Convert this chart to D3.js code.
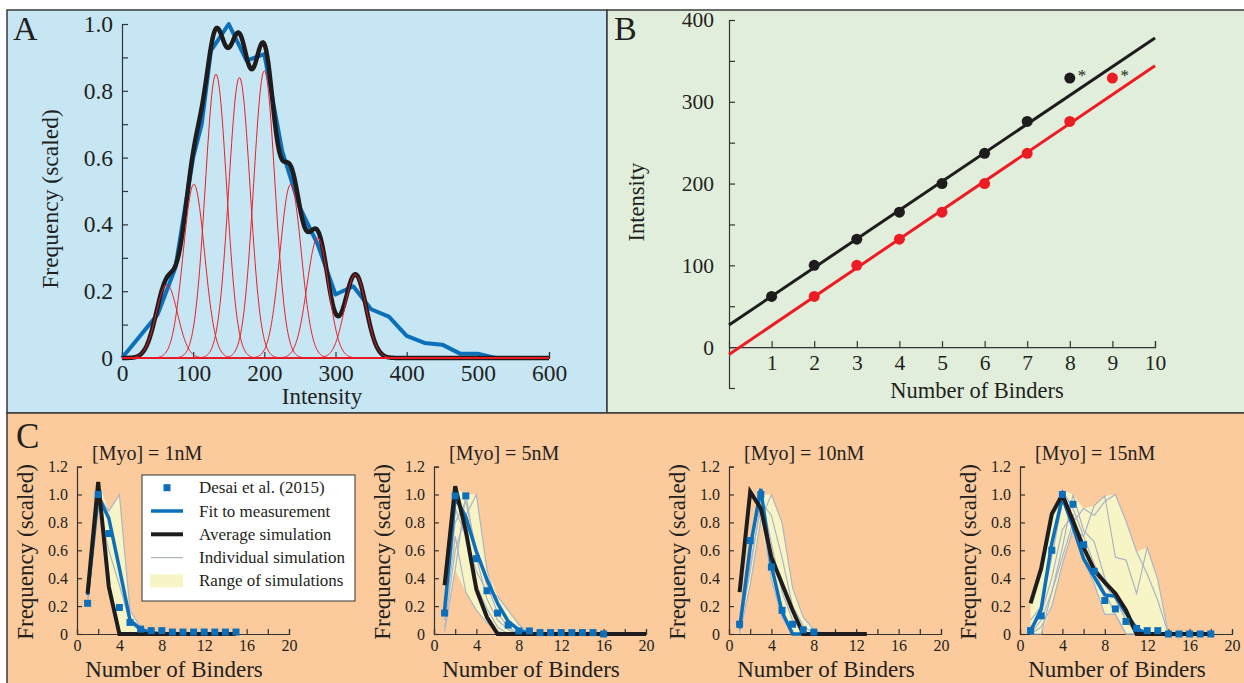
<!DOCTYPE html>
<html>
<head>
<meta charset="utf-8">
<script src="https://cdn.jsdelivr.net/npm/d3@7"></script>
<style>
  body { margin: 0; background: #fff; }
  svg text { font-family: "Liberation Serif", "Times New Roman", serif; fill: #231f20; }
</style>
</head>
<body>
<svg id="fig" width="1244" height="683"></svg>
<script>

// ---- panel A : intensity histogram + gaussian fits
let aIntensity = [0, 25, 50, 75, 100, 112, 125, 150, 175, 200, 225, 250, 275, 300, 325, 350, 375, 400, 425, 450, 475, 500, 525, 550, 575, 600];
let aMeasured  = [0, 0.065, 0.13, 0.27, 0.6, 0.7, 0.92, 1.0, 0.89, 0.91, 0.62, 0.45, 0.34, 0.19, 0.215, 0.146, 0.124, 0.066, 0.045, 0.04, 0.013, 0.013, 0, 0, 0, 0];
let aPeakCenter = [63, 101, 132, 165, 200, 237, 275, 328];
let aPeakHeight = [0.22, 0.52, 0.85, 0.84, 0.86, 0.52, 0.36, 0.25];
let aPeakSigma = 15;

// ---- panel B : peak intensity vs number of binders
let bBinders = [1, 2, 3, 4, 5, 6, 7, 8];
let bRedBinders = [2, 3, 4, 5, 6, 7, 8, 9];
let bIntensity = [62, 100, 132, 165, 200, 237, 276, 329];
let bBlackFit = [[0, 27], [10, 378]];
let bRedFit = [[0, -9], [10, 344]];

// ---- panel C : distributions of binders (x = 1, 2, 3 ...)
let cTitles = ["[Myo] = 1nM", "[Myo] = 5nM", "[Myo] = 10nM", "[Myo] = 15nM"];

let c1Desai = [0.22, 1.0, 0.72, 0.19, 0.083, 0.035, 0.024, 0.024, 0.014, 0.014, 0.014, 0.014, 0.014, 0.014, 0.014];
let c1Fit   = [0.28, 0.99, 0.83, 0.47, 0.1, 0.035, 0.01, 0];
let c1Avg   = [0.29, 1.09, 0.34, 0, 0, 0, 0, 0, 0, 0, 0, 0, 0, 0, 0];
let c1Sims  = [
  [0.3, 1.09, 0.36, 0, 0, 0, 0],
  [0.25, 1.0, 0.88, 1.0, 0.17, 0.05, 0],
  [0.22, 0.95, 0.6, 0.35, 0.08, 0.02, 0]
];

let c2Desai = [0.15, 0.99, 0.99, 0.54, 0.31, 0.15, 0.064, 0.022, 0.022, 0.01, 0.01, 0.01, 0.01, 0.01, 0.01, 0];
let c2Fit   = [0.17, 0.98, 0.84, 0.59, 0.39, 0.22, 0.09, 0.03, 0, 0, 0, 0, 0, 0, 0, 0, 0, 0, 0, 0];
let c2Avg   = [0.35, 1.06, 0.74, 0.32, 0.12, 0, 0, 0, 0, 0, 0, 0, 0, 0, 0, 0, 0, 0, 0, 0];
let c2Sims  = [
  [0.35, 1.05, 0.75, 0.35, 0.18, 0.05, 0, 0, 0],
  [0.02, 0.46, 1.0, 0.55, 0.25, 0.1, 0.03, 0, 0],
  [0.1, 0.7, 0.3, 0.17, 0.08, 0.02, 0, 0, 0],
  [0.05, 0.6, 0.85, 1.0, 0.46, 0.2, 0.08, 0.02, 0],
  [0.2, 0.9, 0.7, 0.45, 0.3, 0.27, 0.17, 0.07, 0],
  [0.15, 0.8, 0.95, 0.6, 0.35, 0.15, 0.05, 0, 0]
];

let c3Desai = [0.07, 0.67, 1.0, 0.48, 0.17, 0.07, 0.03, 0.014];
let c3Fit   = [0.04, 0.62, 1.04, 0.49, 0.16, 0, 0];
let c3Avg   = [0.3, 1.02, 0.9, 0.55, 0.36, 0.17, 0, 0, 0, 0, 0, 0, 0];
let c3Sims  = [
  [0.05, 0.62, 1.0, 0.65, 0.3, 0.1, 0.02, 0, 0],
  [0.0, 0.35, 0.82, 1.0, 0.8, 0.33, 0.12, 0.03, 0],
  [0.02, 0.5, 0.9, 0.39, 0.12, 0.0, 0, 0, 0],
  [0.03, 0.45, 0.95, 0.85, 0.55, 0.2, 0.06, 0, 0]
];

let c4Desai = [0.024, 0.13, 0.6, 1.0, 0.93, 0.64, 0.45, 0.24, 0.18, 0.09, 0.04, 0.024, 0.024, 0, 0, 0, 0, 0];
let c4Fit   = [0.02, 0.18, 0.65, 0.98, 0.77, 0.54, 0.41, 0.28, 0.27, 0.15, 0.04, 0];
let c4Avg   = [0.22, 0.47, 0.86, 1.0, 0.81, 0.62, 0.46, 0.37, 0.29, 0.17, 0, 0, 0, 0, 0, 0, 0, 0];
let c4Sims  = [
  [0.1, 0.2, 0.55, 0.95, 0.85, 0.6, 0.45, 0.3, 0.14, 0.0, 0, 0, 0, 0],
  [0.0, 0.0, 0.3, 0.62, 1.0, 0.74, 0.66, 0.4, 0.25, 0.1, 0, 0, 0, 0],
  [0.05, 0.15, 0.4, 0.75, 0.85, 0.53, 0.36, 0.14, 0.14, 0, 0, 0, 0, 0],
  [0.0, 0.05, 0.2, 0.5, 0.75, 0.7, 0.92, 0.99, 0.55, 0.53, 0.29, 0.62, 0.39, 0],
  [0.0, 0.1, 0.3, 0.55, 0.8, 0.9, 0.85, 0.95, 1.0, 0.81, 0.59, 0.43, 0.24, 0],
  [0.22, 0.47, 0.86, 1.03, 0.9, 0.7, 0.5, 0.35, 0.25, 0.1, 0, 0, 0, 0]
];

let legendLabels = ["Desai et al. (2015)", "Fit to measurement", "Average simulation", "Individual simulation", "Range of simulations"];

let BLUE = "#0b6fba";
let BLACK = "#1f1c1d";
let RED = "#ed1c24";
let GRAY = "#adb4c4";
let YELLOW = "#f7f5c6";
let AXIS = "#333";
let FONT = "'Liberation Serif', 'Times New Roman', serif";

let svg = d3.select("#fig");

// panel backgrounds
function panel(x, y, w, h, fill) {
    svg.append("rect")
        .attr("x", x).attr("y", y).attr("width", w).attr("height", h)
        .attr("fill", fill).attr("stroke", "#3a3a3a").attr("stroke-width", 1.5);
}
panel(7, 10, 600, 403, "#c6e6f3");
panel(607, 10, 640, 403, "#e1eedb");
panel(7, 413, 1240, 275, "#fbcb9d");

function styleAxis(g, size) {
    g.attr("font-family", FONT).attr("font-size", size);
    g.select(".domain").attr("stroke", AXIS).attr("stroke-width", 1.2);
    g.selectAll(".tick line").attr("stroke", AXIS).attr("stroke-width", 1.2);
    g.selectAll(".tick text").attr("fill", "#231f20");
}

function letter(txt, x, y, size) {
    svg.append("text").attr("x", x).attr("y", y).attr("font-size", size).text(txt);
}

//////////////////// A
let xA = d3.scaleLinear([0, 600], [122, 549]);
let yA = d3.scaleLinear([0, 1], [358, 24]);
let gA = svg.append("g");

gA.append("g").attr("transform", `translate(0,${yA(0)})`)
    .call(d3.axisBottom(xA).tickValues([0, 100, 200, 300, 400, 500, 600])
        .tickSize(-6).tickPadding(6))
    .call(g => styleAxis(g, 23.5));

gA.append("g").attr("transform", `translate(${xA(0)},0)`)
    .call(d3.axisLeft(yA).tickValues(d3.range(11).map(i => i / 10))
        .tickSize(-6).tickPadding(9)
        .tickFormat(d => Math.round(d * 10) % 2 ? "" : (d === 0 ? "0" : d3.format(".1f")(d))))
    .call(g => styleAxis(g, 23.5));

let gridA = d3.range(0, 601, 1);
let gauss = (x, c, h) => h * Math.exp(-((x - c) ** 2) / (2 * aPeakSigma * aPeakSigma));
let lineA = d3.line().x(d => xA(d[0])).y(d => yA(d[1]));

gA.append("path")
    .attr("d", lineA(aIntensity.map((d, i) => [d, aMeasured[i]])))
    .attr("fill", "none").attr("stroke", BLUE).attr("stroke-width", 4)
    .attr("stroke-linejoin", "round");

gA.append("path")
    .attr("d", lineA(gridA.map(x => [x, d3.sum(aPeakCenter, (c, i) => gauss(x, c, aPeakHeight[i]))])))
    .attr("fill", "none").attr("stroke", BLACK).attr("stroke-width", 4.5);

gA.selectAll(".peak").data(aPeakCenter).join("path")
    .attr("class", "peak")
    .attr("d", (c, i) => lineA(gridA.map(x => [x, gauss(x, c, aPeakHeight[i])])))
    .attr("fill", "none").attr("stroke", RED).attr("stroke-width", 1);

gA.append("text").attr("x", 322).attr("y", 404).attr("text-anchor", "middle")
    .attr("font-size", 23).text("Intensity");
gA.append("text").attr("transform", "translate(58,199) rotate(-90)")
    .attr("text-anchor", "middle").attr("font-size", 23.5).text("Frequency (scaled)");
letter("A", 13, 40, 34);

//////////////////// B
let xB = d3.scaleLinear([0, 10], [729, 1155]);
let yB = d3.scaleLinear([-50, 400], [388, 20]);
let gB = svg.append("g");

gB.append("g").attr("transform", `translate(0,${yB(0)})`)
    .call(d3.axisBottom(xB).tickValues(d3.range(1, 11)).tickSize(-6).tickPadding(8))
    .call(g => styleAxis(g, 21.5));

gB.append("g").attr("transform", `translate(${xB(0)},0)`)
    .call(d3.axisLeft(yB).tickValues(d3.range(-50, 401, 50))
        .tickSize(-6).tickPadding(15)
        .tickFormat(d => d >= 0 && d % 100 === 0 ? d : ""))
    .call(g => styleAxis(g, 21.5));

let lineB = d3.line().x(d => xB(d[0])).y(d => yB(d[1]));
gB.append("path").attr("d", lineB(bBlackFit)).attr("stroke", BLACK).attr("stroke-width", 3);
gB.append("path").attr("d", lineB(bRedFit)).attr("stroke", RED).attr("stroke-width", 3);

gB.selectAll(".pb").data(bBinders).join("circle").attr("class", "pb")
    .attr("cx", d => xB(d)).attr("cy", (d, i) => yB(bIntensity[i])).attr("r", 5.5).attr("fill", BLACK);
gB.selectAll(".pr").data(bRedBinders).join("circle").attr("class", "pr")
    .attr("cx", d => xB(d)).attr("cy", (d, i) => yB(bIntensity[i])).attr("r", 5.5).attr("fill", RED);

gB.append("text").attr("x", xB(8) + 8).attr("y", yB(329) + 3).attr("font-size", 17).text("*");
gB.append("text").attr("x", xB(9) + 8).attr("y", yB(329) + 3).attr("font-size", 17).text("*");

gB.append("text").attr("x", 977).attr("y", 398).attr("text-anchor", "middle")
    .attr("font-size", 22.5).text("Number of Binders");
gB.append("text").attr("transform", "translate(644,202) rotate(-90)")
    .attr("text-anchor", "middle").attr("font-size", 22.5).text("Intensity");
letter("B", 614, 40, 34);

//////////////////// C
let cOrigins = [77, 434, 729, 1020];
let cDesai = [c1Desai, c2Desai, c3Desai, c4Desai];
let cFit = [c1Fit, c2Fit, c3Fit, c4Fit];
let cAvg = [c1Avg, c2Avg, c3Avg, c4Avg];
let cSims = [c1Sims, c2Sims, c3Sims, c4Sims];

let yC = d3.scaleLinear([0, 1.2], [634, 466.6]);

cOrigins.forEach((x0, k) => {
    let xC = d3.scaleLinear([0, 20], [x0, x0 + 212]);
    let g = svg.append("g");

    g.append("g").attr("transform", `translate(0,${yC(0)})`)
        .call(d3.axisBottom(xC).tickValues(d3.range(0, 21, 2)).tickSize(-5).tickPadding(6)
            .tickFormat(d => d % 4 === 0 ? d : ""))
        .call(a => styleAxis(a, 16));
    g.append("g").attr("transform", `translate(${x0},0)`)
        .call(d3.axisLeft(yC).tickValues(d3.range(7).map(i => i / 5)).tickSize(-5).tickPadding(9)
            .tickFormat(d => d === 0 ? "0" : d3.format(".1f")(d)))
        .call(a => styleAxis(a, 16));

    let line = d3.line().x((d, i) => xC(i + 1)).y(d => yC(d));
    let sims = cSims[k];
    let n = d3.max(sims, s => s.length);
    let range = d3.range(n).map(i => ({
        x: i + 1,
        lo: d3.min(sims, s => s[i] ?? 0),
        hi: d3.max(sims, s => s[i] ?? 0)
    }));

    g.append("path")
        .attr("d", d3.area().x(d => xC(d.x)).y0(d => yC(d.lo)).y1(d => yC(d.hi))(range))
        .attr("fill", YELLOW);

    g.selectAll(".sim").data(sims).join("path").attr("class", "sim")
        .attr("d", line).attr("fill", "none").attr("stroke", GRAY).attr("stroke-width", 1.2);

    g.append("path").attr("d", line(cFit[k]))
        .attr("fill", "none").attr("stroke", BLUE).attr("stroke-width", 3.5);
    g.append("path").attr("d", line(cAvg[k]))
        .attr("fill", "none").attr("stroke", BLACK).attr("stroke-width", 4);

    g.selectAll(".sq").data(cDesai[k]).join("rect").attr("class", "sq")
        .attr("x", (d, i) => xC(i + 1) - 3.5).attr("y", d => yC(d) - 3.5)
        .attr("width", 7).attr("height", 7).attr("fill", BLUE);

    g.append("text").attr("x", x0 + 15).attr("y", 460).attr("font-size", 20).text(cTitles[k]);
    g.append("text").attr("x", x0 + 97).attr("y", 677).attr("text-anchor", "middle")
        .attr("font-size", 23).text("Number of Binders");
    g.append("text").attr("transform", `translate(${x0 - 44},552) rotate(-90)`)
        .attr("text-anchor", "middle").attr("font-size", 23).text("Frequency (scaled)");
});

letter("C", 16, 448, 35);

// legend
let leg = svg.append("g").attr("transform", "translate(142,475)");
leg.append("rect").attr("width", 213).attr("height", 126)
    .attr("fill", "#fff").attr("stroke", AXIS).attr("stroke-width", 1);
let rowY = i => 12.7 + i * 23.3;
leg.append("rect").attr("x", 21.5).attr("y", rowY(0) - 3.5).attr("width", 7).attr("height", 7).attr("fill", BLUE);
leg.append("line").attr("x1", 9).attr("x2", 41).attr("y1", rowY(1)).attr("y2", rowY(1))
    .attr("stroke", BLUE).attr("stroke-width", 3.5);
leg.append("line").attr("x1", 9).attr("x2", 41).attr("y1", rowY(2)).attr("y2", rowY(2))
    .attr("stroke", BLACK).attr("stroke-width", 4);
leg.append("line").attr("x1", 9).attr("x2", 41).attr("y1", rowY(3)).attr("y2", rowY(3))
    .attr("stroke", GRAY).attr("stroke-width", 1.2);
leg.append("rect").attr("x", 8).attr("y", rowY(4) - 6.5).attr("width", 33).attr("height", 13).attr("fill", YELLOW);
leg.selectAll(".lt").data(legendLabels).join("text").attr("class", "lt")
    .attr("x", 57).attr("y", (d, i) => rowY(i) + 5.5).attr("font-size", 17).text(d => d);

</script>
</body>
</html>
